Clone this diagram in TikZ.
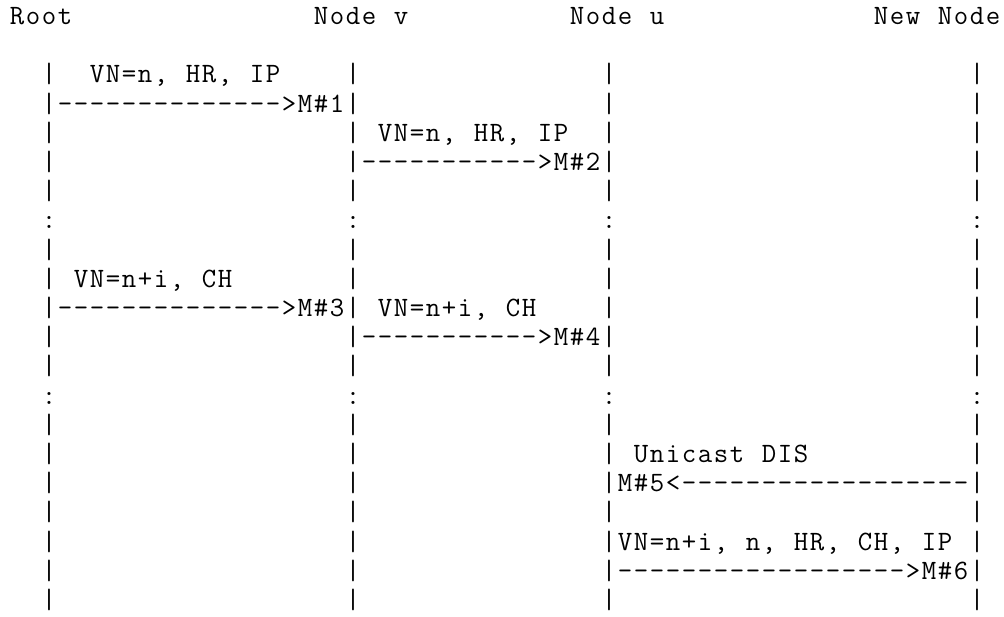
\documentclass[tikz,border=0pt]{standalone}
\usepackage{fontspec}
\newlength\cw \setlength\cw{16pt}
\makeatletter
\newcommand\asc[1]{\@tfor\asc@c:=#1\do{\makebox[\cw][c]{\asc@c}}}
\makeatother
\tikzset{txt/.style={anchor=base west, inner sep=0pt, outer sep=0pt, text=black,
  font=\ttfamily\fontsize{28}{29.2}\selectfont}}
\newcommand\R[4]{\node[txt] (#1) at ({9pt+16pt*#2},{-24.5pt-29.2pt*#3}) {\asc{#4}};}
\newcommand\B[2]{\foreach \c in {#2}{\node[txt] (b-#1-\c) at ({9pt+16pt*\c},{-24.5pt-29.2pt*#1}) {\asc{|}};}}
\newcommand\C[1]{\foreach \c in {2,21,37,60}{\node[txt] (c-#1-\c) at ({9pt+16pt*\c},{-24.5pt-29.2pt*#1}) {\asc{:}};}}
\begin{document}
\begin{tikzpicture}
\useasboundingbox (0,0) rectangle (1004pt,-616pt);
% header
\R{root}{0}{0}{Root}
\R{nv}{19}{0}{Node~v}
\R{nu}{35}{0}{Node~u}
\R{nn}{54}{0}{New~Node}
% row 2
\B{2}{2,21,37,60}
\R{l1}{5}{2}{VN=n,~HR,~IP}
% row 3
\R{a1}{2}{3}{|-------------->M\#1|}
\B{3}{37,60}
% row 4
\B{4}{2,21,37,60}
\R{l2}{23}{4}{VN=n,~HR,~IP}
% row 5
\B{5}{2,60}
\R{a2}{21}{5}{|----------->M\#2|}
\B{6}{2,21,37,60}
\C{7}
\B{8}{2,21,37,60}
% row 9
\B{9}{2,21,37,60}
\R{l3}{4}{9}{VN=n+i,~CH}
% row 10
\R{a3}{2}{10}{|-------------->M\#3|}
\R{l4}{23}{10}{VN=n+i,~CH}
\B{10}{37,60}
% row 11
\B{11}{2,60}
\R{a4}{21}{11}{|----------->M\#4|}
\B{12}{2,21,37,60}
\C{13}
\B{14}{2,21,37,60}
% row 15
\B{15}{2,21,37,60}
\R{l5}{39}{15}{Unicast~DIS}
% row 16
\B{16}{2,21}
\R{a5}{37}{16}{|M\#5<------------------|}
\B{17}{2,21,37,60}
% row 18
\B{18}{2,21,37,60}
\R{l6}{38}{18}{VN=n+i,~n,~HR,~CH,~IP}
% row 19
\B{19}{2,21}
\R{a6}{37}{19}{|------------------>M\#6|}
\B{20}{2,21,37,60}
\end{tikzpicture}
\end{document}
